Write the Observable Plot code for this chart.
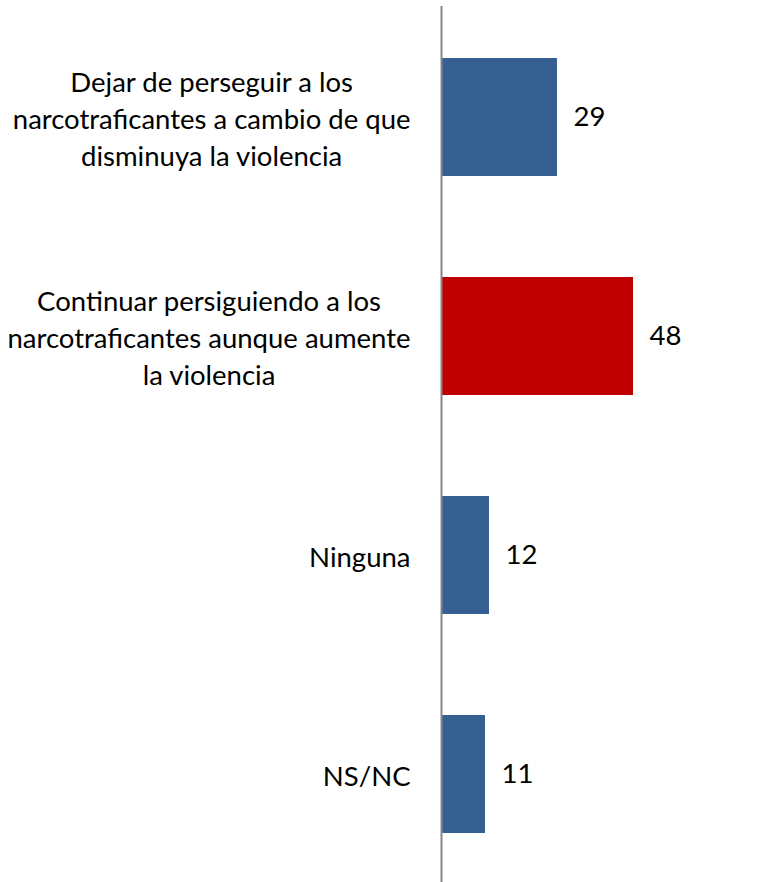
<!DOCTYPE html>
<html>
<head>
<meta charset="utf-8">
<script src="https://cdn.jsdelivr.net/npm/d3@7"></script>
<script src="https://cdn.jsdelivr.net/npm/@observablehq/plot@0.6"></script>
<style>
  html, body { margin: 0; padding: 0; background: #fff; }
  #chart svg { display: block; }
</style>
</head>
<body>
<div id="chart"></div>
<script>
const categories = [
  "Dejar de perseguir a los\nnarcotraficantes a cambio de que\ndisminuya la violencia",
  "Continuar persiguiendo a los\nnarcotraficantes aunque aumente\nla violencia",
  "Ninguna",
  "NS/NC"
];
const values = [29, 48, 12, 11];
const highlighted = categories[1];

const FONT = "Lato, 'Open Sans', sans-serif";
const FS = 27.5;
const data = categories.map((c, i) => ({ category: c, value: values[i] }));

const ctx = document.createElement("canvas").getContext("2d");
ctx.font = `${FS}px Lato`;
const blockWidth = c => d3.max(c.split("\n"), l => ctx.measureText(l).width);

const gap = 31;
const labelMarks = data.map(d =>
  Plot.text([d], {
    x: () => 0, y: "category", text: "category",
    textAnchor: "middle",
    dx: -(gap + blockWidth(d.category) / 2),
    lineHeight: 37 / FS,
    fontSize: FS, fill: "#000"
  })
);

const chart = Plot.plot({
  width: 778,
  height: 882,
  marginLeft: 441,
  marginRight: 0,
  marginTop: 6,
  marginBottom: -3,
  style: { fontFamily: FONT, background: "#fff" },
  x: { domain: [0, 84.25], axis: null },
  y: { domain: categories, paddingInner: 0.463, paddingOuter: 0.2315, axis: null },
  marks: [
    Plot.barX(data, {
      x: "value", y: "category",
      fill: d => d.category === highlighted ? "#C00000" : "#376092",
      insetLeft: 1
    }),
    Plot.ruleX([0], { stroke: "#868686", strokeWidth: 2 }),
    Plot.text(data, {
      x: "value", y: "category", text: d => String(d.value),
      textAnchor: "start", dx: 16, fontSize: FS, fill: "#000"
    }),
    ...labelMarks
  ]
});
document.getElementById("chart").appendChild(chart);
</script>
</body>
</html>
